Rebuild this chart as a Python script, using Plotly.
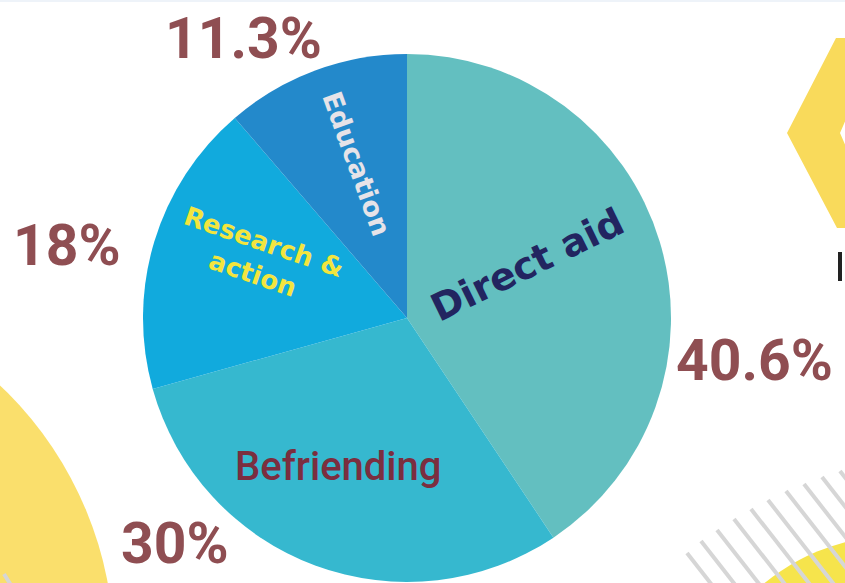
import plotly.graph_objects as go
import math

# ---- data ----
labels = ["Direct aid", "Befriending", "Research &<br>action", "Education"]
values = [40.6, 30, 18, 11.3]
slice_colors = ["#63BFC0", "#36B8CF", "#11AADD", "#2389CB"]

W, H = 845, 583
def px(x):
    return x / W
def py(y):
    return 1 - y / H

# pie geometry (pixels)
cx, cy, r = 407, 318, 264

fig = go.Figure()
fig.add_trace(go.Pie(
    labels=labels, values=values, sort=False, direction="clockwise", rotation=0,
    marker=dict(colors=slice_colors, line=dict(width=0)),
    textinfo="none", hoverinfo="skip", showlegend=False,
    domain=dict(x=[px(cx - r), px(cx + r)], y=[py(cy + r), py(cy - r)]),
))

# ---- slice labels (style/position per label) ----
label_styles = [
    dict(x=527, y=265, angle=-26, color="#222560", size=38, family="DejaVu Sans", weight="bold"),
    dict(x=338, y=466, angle=0, color="#7B2E3F", size=40, family="Roboto", weight=500),
    dict(x=258, y=258, angle=19, color="#F3E53E", size=26, family="DejaVu Sans", weight="bold"),
    dict(x=357, y=163, angle=70, color="#E6E3E8", size=27, family="DejaVu Sans", weight="bold"),
]
annotations = []
for lab, st in zip(labels, label_styles):
    annotations.append(dict(
        x=px(st["x"]), y=py(st["y"]), xref="paper", yref="paper", text=lab,
        showarrow=False, textangle=st["angle"], xanchor="center", yanchor="middle",
        font=dict(color=st["color"], size=st["size"], family=st["family"], weight=st["weight"]),
    ))

# ---- percentage labels ----
pct_pos = [(754, 360), (175, 543), (67, 245), (243, 39)]
for v, (x, y) in zip(values, pct_pos):
    annotations.append(dict(
        x=px(x), y=py(y), xref="paper", yref="paper", text=f"{v:g}%",
        showarrow=False, xanchor="center", yanchor="middle",
        font=dict(color="#8F4E52", size=57, family="Roboto", weight="bold"),
    ))

# ---- decorative shapes ----
shapes = []
# big yellow circle bottom-left
shapes.append(dict(type="circle", xref="paper", yref="paper",
                   x0=px(-250 - 364), x1=px(-250 + 364), y0=py(650 + 364), y1=py(650 - 364),
                   fillcolor="#FADF6C", line=dict(width=0), layer="below"))
# yellow circle bottom-right
shapes.append(dict(type="circle", xref="paper", yref="paper",
                   x0=px(900 - 215), x1=px(900 + 215), y0=py(750 + 215), y1=py(750 - 215),
                   fillcolor="#F6E44C", line=dict(width=0), layer="below"))
# grey stripes bottom-right
starts = [(687, 553), (701, 541), (717, 530), (734, 519), (751, 509), (768, 500),
          (786, 491), (804, 484), (822, 477), (840, 471)]
ang = math.radians(52)
for (sx, sy) in starts:
    ex, ey = sx + 140 * math.cos(ang), sy + 140 * math.sin(ang)
    shapes.append(dict(type="line", xref="paper", yref="paper",
                       x0=px(sx), y0=py(sy), x1=px(ex), y1=py(ey),
                       line=dict(color="#D6D6D6", width=4), layer="below"))
# small stripe bottom-left
shapes.append(dict(type="line", xref="paper", yref="paper",
                   x0=px(4), y0=py(574), x1=px(14), y1=py(590),
                   line=dict(color="#D6D6D6", width=4), layer="below"))
# yellow chevron top-right
chev = [(836, 38), (850, 38), (850, 110), (840, 133), (850, 156), (850, 228), (837, 228), (787, 133)]
path = "M " + " L ".join(f"{px(x)},{py(y)}" for x, y in chev) + " Z"
shapes.append(dict(type="path", xref="paper", yref="paper", path=path,
                   fillcolor="#F9DA5B", line=dict(width=0), layer="below"))
# dark fragment at right edge
shapes.append(dict(type="rect", xref="paper", yref="paper",
                   x0=px(838), x1=px(842), y0=py(281), y1=py(252),
                   fillcolor="#222222", line=dict(width=0), layer="below"))
# faint top border line
shapes.append(dict(type="line", xref="paper", yref="paper", x0=0, x1=1, y0=py(1), y1=py(1),
                   line=dict(color="#EEF3F9", width=2), layer="below"))

fig.update_layout(
    width=W, height=H, margin=dict(l=0, r=0, t=0, b=0),
    paper_bgcolor="white", plot_bgcolor="white",
    annotations=annotations, shapes=shapes,
)
fig.write_html("out.html")
